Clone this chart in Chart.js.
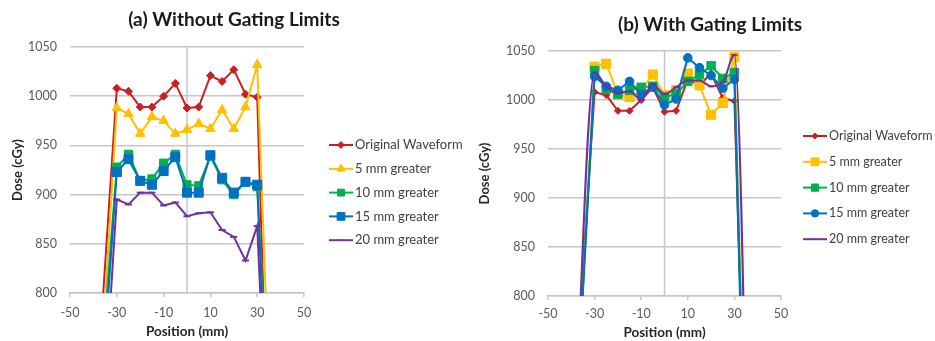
<!DOCTYPE html>
<html>
<head>
<meta charset="utf-8">
<script src="https://cdn.jsdelivr.net/npm/chart.js@4.4.1/dist/chart.umd.min.js"></script>
<style>
  html, body { margin: 0; padding: 0; background: #ffffff; }
  #wrap { position: relative; width: 935px; height: 341px; overflow: hidden; }
  #wrap canvas { position: absolute; top: 0; }
  #chartA { left: 0; }
  #chartB { left: 470px; }
</style>
</head>
<body>
<div id="wrap">
  <canvas id="chartA" width="470" height="341"></canvas>
  <canvas id="chartB" width="465" height="341"></canvas>
</div>
<script>
// Measurement positions across the field (mm) and axis tick values
const positions = [-40, -30, -25, -20, -15, -10, -5, 0, 5, 10, 15, 20, 25, 30, 40];
const xTicks = [-50, -30, -10, 10, 30, 50];
const seriesNames = ['Original Waveform', '5 mm greater', '10 mm greater', '15 mm greater', '20 mm greater'];

// Dose (cGy): original breathing waveform (same in both panels)
const originalWaveform = [649, 1008, 1005, 989, 989, 1000, 1013, 988, 989, 1021, 1015, 1027, 1002, 999, 234];

// (a) delivered without gating limits
const noGate5  = [596, 988, 982, 962, 979, 975, 962, 966, 972, 967, 986, 967, 989, 1032, 388];
const noGate10 = [623, 928, 941, 914, 916, 932, 941, 910, 909, 939, 915, 900, 913, 908, 438];
const noGate15 = [581, 923, 936, 914, 910, 924, 938, 902, 902, 940, 917, 902, 913, 910, 360];
const noGate20 = [516, 895, 890, 902, 902, 889, 892, 878, 881, 882, 864, 857, 833, 868, 345];

// (b) delivered with gating limits
const gate5  = [586, 1034, 1037, 1006, 1003, 1010, 1026, 1005, 1010, 1027, 1015, 985, 997, 1044, 173];
const gate10 = [588, 1030, 1011, 1006, 1010, 1013, 1014, 1003, 1006, 1019, 1026, 1035, 1022, 1028, 151];
const gate15 = [585, 1024, 1014, 1010, 1019, 1006, 1013, 995, 1001, 1043, 1033, 1025, 1012, 1021, 100];
const gate20 = [572, 1028, 1014, 1007, 1009, 1000, 1016, 1006, 1013, 1020, 1020, 1014, 1018, 1046, 21];

const FONT = 'Lato, "Liberation Sans", "DejaVu Sans", sans-serif';
const COLORS = ['#cc1f24', '#ffc000', '#00b050', '#0070c0', '#7030a0'];
const GRID = '#c6c6c6';

function points(values) {
  return positions.map((x, i) => ({ x: x, y: values[i] }));
}

function makeDatasets(valueSets, markers) {
  return valueSets.map((vals, i) => ({
    label: seriesNames[i],
    data: points(vals),
    borderColor: COLORS[i],
    backgroundColor: COLORS[i],
    pointBackgroundColor: COLORS[i],
    pointBorderColor: COLORS[i],
    borderWidth: 2,
    pointStyle: markers[i].style,
    pointRadius: markers[i].r,
    pointBorderWidth: markers[i].style === 'line' ? 2 : 1,
    cubicInterpolationMode: markers[i].smooth ? 'monotone' : 'default',
    tension: 0,
    clip: 0,
    order: 5 - i
  }));
}

// vertical axis line through position 0
const zeroLine = {
  id: 'zeroLine',
  beforeDatasetsDraw(chart) {
    const { ctx, chartArea, scales } = chart;
    const px = scales.x.getPixelForValue(0);
    ctx.save();
    ctx.strokeStyle = GRID;
    ctx.lineWidth = 1.5;
    ctx.beginPath();
    ctx.moveTo(px, chartArea.top);
    ctx.lineTo(px, chartArea.bottom);
    ctx.stroke();
    ctx.restore();
  }
};

// panel heading and series key at the right of the plot
const panelDecor = {
  id: 'panelDecor',
  afterDraw(chart, args, opts) {
    const ctx = chart.ctx;
    ctx.save();
    ctx.font = 'bold ' + opts.titleSize + 'px ' + FONT;
    ctx.fillStyle = '#1a1a1a';
    ctx.textAlign = 'center';
    ctx.textBaseline = 'middle';
    ctx.fillText(opts.title, opts.titleX, opts.titleY);

    chart.data.datasets.forEach((ds, i) => {
      const y = opts.keyY + i * opts.keyDy;
      ctx.strokeStyle = ds.borderColor;
      ctx.lineWidth = 2;
      ctx.beginPath();
      ctx.moveTo(opts.keyX, y);
      ctx.lineTo(opts.keyX + opts.keyLen, y);
      ctx.stroke();
      ctx.fillStyle = ds.pointBackgroundColor;
      ctx.strokeStyle = ds.pointBorderColor;
      ctx.lineWidth = 1;
      Chart.helpers.drawPoint(ctx, { pointStyle: ds.pointStyle, radius: ds.pointRadius * 0.85, borderWidth: 1, rotation: 0 },
        opts.keyX + opts.keyLen / 2, y);
      ctx.fillStyle = '#404040';
      ctx.font = opts.keySize + 'px ' + FONT;
      ctx.textAlign = 'left';
      ctx.textBaseline = 'middle';
      ctx.fillText(ds.label, opts.keyX + opts.keyLen + 2, y);
    });
    ctx.restore();
  }
};

function makeChart(id, datasets, L) {
  return new Chart(document.getElementById(id), {
    type: 'line',
    data: { datasets: datasets },
    plugins: [zeroLine, panelDecor],
    options: {
      responsive: false,
      animation: false,
      events: [],
      layout: { padding: { left: 0, top: L.top, right: L.right, bottom: 0 } },
      plugins: {
        legend: { display: false },
        title: { display: false },
        tooltip: { enabled: false },
        panelDecor: L.decor
      },
      scales: {
        x: {
          type: 'linear',
          min: -50, max: 50,
          afterBuildTicks: s => { s.ticks = xTicks.map(v => ({ value: v })); },
          afterFit: s => { s.height = L.xH; },
          grid: { drawOnChartArea: false, drawTicks: true, tickLength: 4, color: GRID, lineWidth: 1.5 },
          border: { display: true, color: GRID, width: 1.5 },
          ticks: { color: '#595959', font: { family: FONT, size: 12.5 }, padding: L.xTickPad,
                   maxRotation: 0, autoSkip: false, callback: v => String(v) },
          title: { display: true, text: 'Position (mm)', color: '#262626',
                   font: { family: FONT, size: 13.5, weight: 'bold' }, padding: { top: 0, bottom: L.xTitlePad } }
        },
        y: {
          type: 'linear',
          min: 800, max: 1050,
          afterFit: s => { s.width = L.yW; },
          grid: { color: GRID, lineWidth: 1.5, drawTicks: false },
          border: { display: false },
          ticks: { stepSize: 50, color: '#595959', font: { family: FONT, size: 12.5 }, padding: 13,
                   callback: v => String(v) },
          title: { display: true, text: 'Dose (cGy)', color: '#262626',
                   font: { family: FONT, size: 13, weight: 'bold' }, padding: { top: L.yTitlePad, bottom: 0 } }
        }
      }
    }
  });
}

makeChart('chartA',
  makeDatasets([originalWaveform, noGate5, noGate10, noGate15, noGate20], [
    { style: 'rectRot', r: 4 },
    { style: 'triangle', r: 5.5 },
    { style: 'rect', r: 5.7 },
    { style: 'rect', r: 6.4 },
    { style: 'line', r: 3.5 }
  ]),
  { top: 47, right: 166, xH: 48, yW: 70, xTickPad: 8, xTitlePad: 1, yTitlePad: 10,
    decor: { title: '(a) Without Gating Limits', titleSize: 19, titleX: 234, titleY: 20,
             keyX: 329, keyLen: 24, keyY: 145, keyDy: 23.8, keySize: 13 } });

makeChart('chartB',
  makeDatasets([originalWaveform, gate5, gate10, gate15, gate20], [
    { style: 'rectRot', r: 3.5 },
    { style: 'rect', r: 6.5 },
    { style: 'rect', r: 6 },
    { style: 'circle', r: 4.3 },
    { style: 'line', r: 3, smooth: true }
  ]),
  { top: 51, right: 154, xH: 45, yW: 78, xTickPad: 6, xTitlePad: 0, yTitlePad: 7,
    decor: { title: '(b) With Gating Limits', titleSize: 19, titleX: 240, titleY: 25,
             keyX: 333, keyLen: 24, keyY: 136, keyDy: 25.8, keySize: 12.5 } });
</script>
</body>
</html>
